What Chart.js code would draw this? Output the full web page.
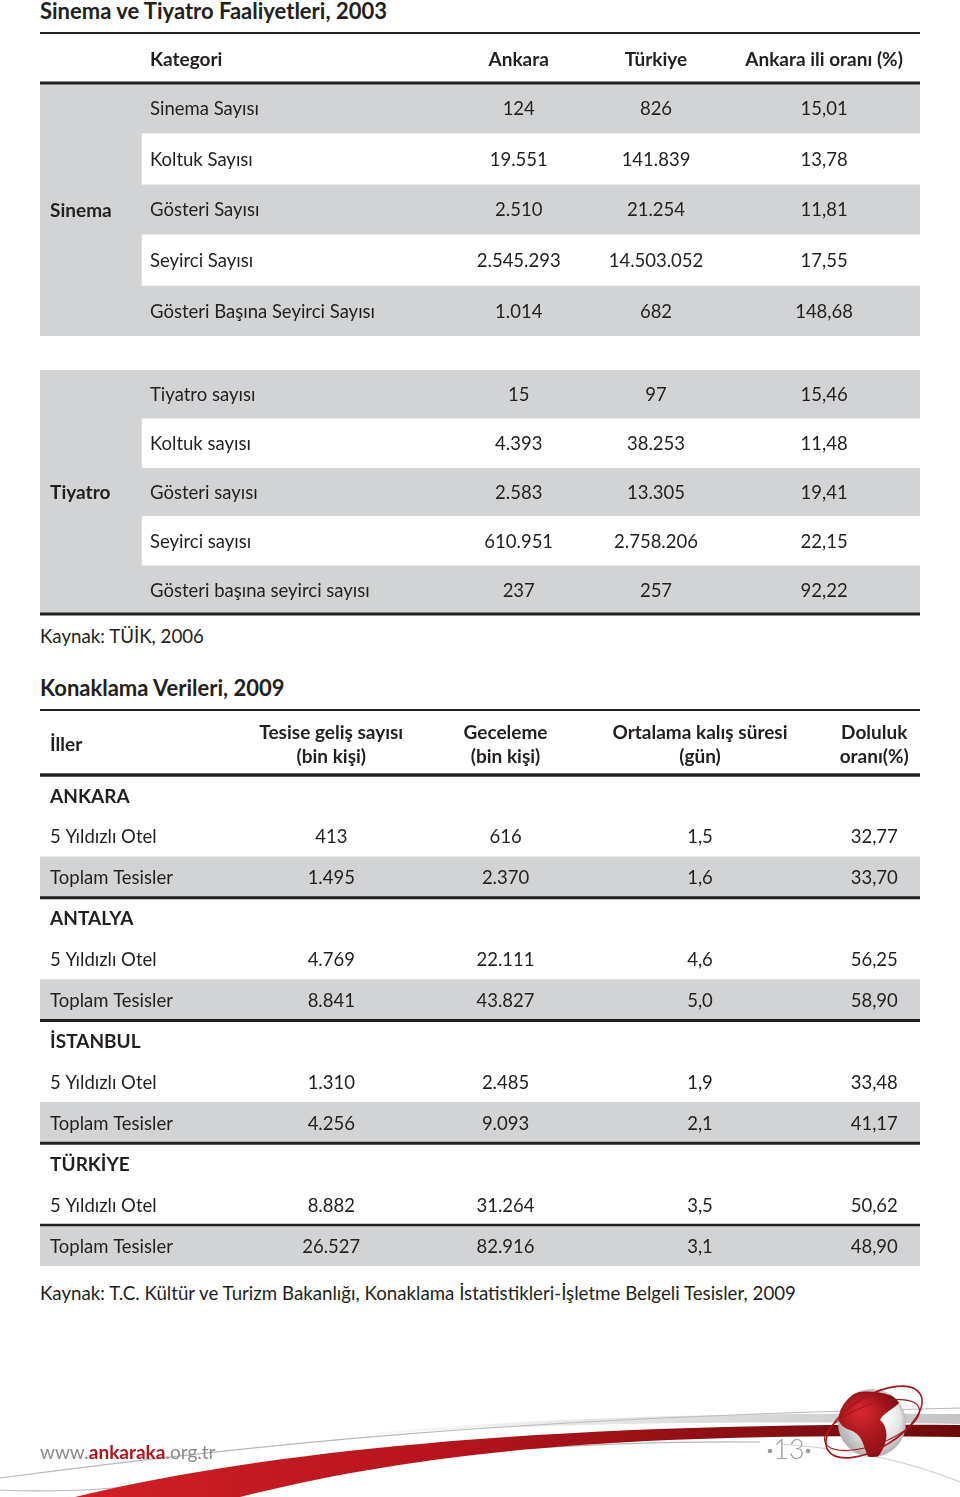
<!DOCTYPE html>
<html lang="tr">
<head>
<meta charset="utf-8">
<title>Sinema ve Tiyatro Faaliyetleri, Konaklama Verileri</title>
<script src="https://cdn.jsdelivr.net/npm/chart.js@4/dist/chart.umd.min.js"></script>
<style>
  html, body { margin: 0; padding: 0; background: #fff; }
  #sayfa { position: relative; width: 960px; height: 1497px; overflow: hidden; font-family: Lato, 'Open Sans', sans-serif; color: #231f20; }
  #sayfa canvas { position: absolute; left: 0; }
  .yazi { position: absolute; left: 40px; white-space: nowrap; line-height: 24px; }
  .baslik { font-weight: bold; font-size: 22px; }
  .kaynak { font-size: 18.7px; }
  .site { font-size: 19px; color: #8c8c8c; }
  .site b { color: #b3141d; }
</style>
</head>
<body>
<div id="sayfa">
  <div class="yazi baslik" style="top:-1px">Sinema ve Tiyatro Faaliyetleri, 2003</div>
  <canvas id="sinemaTablo" width="960" height="337" style="top:0"></canvas>
  <canvas id="tiyatroTablo" width="960" height="262" style="top:360px"></canvas>
  <div class="yazi kaynak" style="top:624px">Kaynak: TÜİK, 2006</div>

  <div class="yazi baslik" style="top:676px">Konaklama Verileri, 2009</div>
  <canvas id="konaklamaTablo" width="960" height="570" style="top:700px"></canvas>
  <div class="yazi kaynak" style="top:1281px">Kaynak: T.C. Kültür ve Turizm Bakanlığı, Konaklama İstatistikleri-İşletme Belgeli Tesisler, 2009</div>

  <canvas id="altSerit" width="960" height="140" style="top:1357px"></canvas>
  <div class="yazi site" style="top:1440px">www.<b>ankaraka</b>.org.tr</div>
</div>

<script>
// --- Sinema ve Tiyatro 2003 ---
const sutunlar1 = ['Kategori', 'Ankara', 'Türkiye', 'Ankara ili oranı (%)'];

const sinemaKalemleri = ['Sinema Sayısı', 'Koltuk Sayısı', 'Gösteri Sayısı', 'Seyirci Sayısı', 'Gösteri Başına Seyirci Sayısı'];
const sinemaAnkara = [124, 19551, 2510, 2545293, 1014];
const sinemaTurkiye = [826, 141839, 21254, 14503052, 682];
const sinemaOran = [15.01, 13.78, 11.81, 17.55, 148.68];

const tiyatroKalemleri = ['Tiyatro sayısı', 'Koltuk sayısı', 'Gösteri sayısı', 'Seyirci sayısı', 'Gösteri başına seyirci sayısı'];
const tiyatroAnkara = [15, 4393, 2583, 610951, 237];
const tiyatroTurkiye = [97, 38253, 13305, 2758206, 257];
const tiyatroOran = [15.46, 11.48, 19.41, 22.15, 92.22];

// --- Konaklama 2009 ---
const sutunlar2 = [['İller'], ['Tesise geliş sayısı', '(bin kişi)'], ['Geceleme', '(bin kişi)'], ['Ortalama kalış süresi', '(gün)'], ['Doluluk', 'oranı(%)']];
const iller = ['ANKARA', 'ANTALYA', 'İSTANBUL', 'TÜRKİYE'];
const tesisTurleri = ['5 Yıldızlı Otel', 'Toplam Tesisler'];
// her il için sırayla: 5 yıldızlı otel, toplam tesisler
const gelisSayisi = [413, 1495, 4769, 8841, 1310, 4256, 8882, 26527];
const geceleme = [616, 2370, 22111, 43827, 2485, 9093, 31264, 82916];
const kalisSuresi = [1.5, 1.6, 4.6, 5.0, 1.9, 2.1, 3.5, 3.1];
const dolulukOrani = [32.77, 33.70, 56.25, 58.90, 33.48, 41.17, 50.62, 48.90];


const METIN = '#231f20';
const GRI = '#d1d3d4';
const YAZI = '18.5px Lato, "Open Sans", sans-serif';
const KALIN = 'bold 19px Lato, "Open Sans", sans-serif';

// türkçe sayı biçimi: binlik nokta, ondalık virgül
function trSayi(v, ondalik = 0) {
    const [tam, kesir] = v.toFixed(ondalik).split('.');
    const binli = tam.replace(/\B(?=(\d{3})+(?!\d))/g, '.');
    return kesir ? binli + ',' + kesir : binli;
}

// tablo metinleri ve çizgileri, x/y ölçeklerinden konumlanır
const tabloPlugin = {
    id: 'tablo',
    afterDatasetsDraw(chart, args, o) {
        const { ctx, chartArea: ca } = chart;
        const x = chart.scales.x, y = chart.scales.y;
        const sol = x.getPixelForValue(0), sag = x.getPixelForValue(100);
        ctx.save();
        ctx.fillStyle = METIN;
        ctx.strokeStyle = METIN;
        ctx.textBaseline = 'middle';

        (o.cizgiler || []).forEach(c => {
            let py;
            if (c.sinir === 'ust') py = ca.top - o.baslikYuksekligi;
            else if (c.sinir === 'baslik') py = ca.top;
            else if (c.sinir === 'alt') py = ca.bottom;
            else py = (y.getPixelForValue(c.sinir) + y.getPixelForValue(c.sinir + 1)) / 2;
            ctx.lineWidth = c.kalinlik;
            ctx.beginPath();
            ctx.moveTo(sol, py);
            ctx.lineTo(sag, py);
            ctx.stroke();
        });

        if (o.baslik) {
            ctx.font = KALIN;
            const orta = ca.top - o.baslikYuksekligi / 2 + 2;
            o.baslik.forEach((satirlar, j) => {
                const s = o.sutunlar[j];
                ctx.textAlign = s.hiza;
                satirlar.forEach((t, k) => {
                    ctx.fillText(t, x.getPixelForValue(s.konum), orta + (k - (satirlar.length - 1) / 2) * 24);
                });
            });
        }

        o.hucreler.forEach((satir, i) => {
            const py = y.getPixelForValue(i) + 1;
            satir.forEach((t, j) => {
                if (!t) return;
                const s = o.sutunlar[j];
                ctx.font = (o.kalinSatirlar || []).includes(i) ? KALIN : YAZI;
                ctx.textAlign = s.hiza;
                ctx.fillText(t, x.getPixelForValue(s.konum), py);
            });
        });

        if (o.grup) {
            ctx.font = KALIN;
            ctx.textAlign = 'left';
            ctx.fillText(o.grup, x.getPixelForValue(o.grupKonum), (ca.top + ca.bottom) / 2 + 1);
        }
        ctx.restore();
    }
};

function tabloKur(id, satirAdlari, griSatirlar, beyazSatirlar, beyazBaslangic, dolgu, ayarlar) {
    const bant = (satirlar, bas) => satirAdlari.map((_, i) => satirlar.includes(i) ? [bas, 100] : null);
    return new Chart(document.getElementById(id), {
        type: 'bar',
        data: {
            labels: satirAdlari,
            datasets: [{
                data: bant(griSatirlar, 0),
                backgroundColor: GRI,
                grouped: false,
                order: 2,
                barPercentage: 1,
                categoryPercentage: 1,
            }, {
                data: bant(beyazSatirlar, beyazBaslangic),
                backgroundColor: '#ffffff',
                grouped: false,
                order: 1,
                barPercentage: 1,
                categoryPercentage: 1,
            }]
        },
        options: {
            indexAxis: 'y',
            responsive: false,
            animation: false,
            events: [],
            layout: { padding: dolgu },
            scales: {
                x: { type: 'linear', min: 0, max: 100, display: false },
                y: { display: false }
            },
            plugins: {
                legend: { display: false },
                tooltip: { enabled: false },
                tablo: ayarlar
            }
        },
        plugins: [tabloPlugin]
    });
}

// sütun konumları (x ölçeği 0-100, tablo genişliği)
const kolon1 = [
    { konum: 12.5, hiza: 'left' },
    { konum: 54.4, hiza: 'center' },
    { konum: 70.0, hiza: 'center' },
    { konum: 89.1, hiza: 'center' },
];
const kolon2 = [
    { konum: 1.15, hiza: 'left' },
    { konum: 33.1, hiza: 'center' },
    { konum: 52.9, hiza: 'center' },
    { konum: 75.0, hiza: 'center' },
    { konum: 94.8, hiza: 'center' },
];

const sinemaHucreler = sinemaKalemleri.map((k, i) =>
    [k, trSayi(sinemaAnkara[i]), trSayi(sinemaTurkiye[i]), trSayi(sinemaOran[i], 2)]);
const tiyatroHucreler = tiyatroKalemleri.map((k, i) =>
    [k, trSayi(tiyatroAnkara[i]), trSayi(tiyatroTurkiye[i]), trSayi(tiyatroOran[i], 2)]);

tabloKur('sinemaTablo', sinemaKalemleri, [0, 1, 2, 3, 4], [1, 3], 11.6,
    { top: 83, left: 40, right: 40, bottom: 1 },
    {
        sutunlar: kolon1,
        baslik: sutunlar1.map(s => [s]),
        baslikYuksekligi: 50,
        hucreler: sinemaHucreler,
        grup: 'Sinema',
        grupKonum: 1.15,
        cizgiler: [{ sinir: 'ust', kalinlik: 2 }, { sinir: 'baslik', kalinlik: 3 }]
    });

tabloKur('tiyatroTablo', tiyatroKalemleri, [0, 1, 2, 3, 4], [1, 3], 11.6,
    { top: 10, left: 40, right: 40, bottom: 8 },
    {
        sutunlar: kolon1,
        hucreler: tiyatroHucreler,
        grup: 'Tiyatro',
        grupKonum: 1.15,
        cizgiler: [{ sinir: 'alt', kalinlik: 3 }]
    });

const konaklamaSatirlar = [];
const konaklamaHucreler = [];
const ilSatirlari = [];
const toplamSatirlari = [];
iller.forEach((il, i) => {
    ilSatirlari.push(konaklamaSatirlar.length);
    konaklamaSatirlar.push(il);
    konaklamaHucreler.push([il]);
    tesisTurleri.forEach((tur, k) => {
        const n = i * 2 + k;
        if (k === 1) toplamSatirlari.push(konaklamaSatirlar.length);
        konaklamaSatirlar.push(il + ' ' + tur);
        konaklamaHucreler.push([tur, trSayi(gelisSayisi[n]), trSayi(geceleme[n]), trSayi(kalisSuresi[n], 1), trSayi(dolulukOrani[n], 2)]);
    });
});

tabloKur('konaklamaTablo', konaklamaSatirlar, toplamSatirlari, [], 0,
    { top: 75, left: 40, right: 40, bottom: 4 },
    {
        sutunlar: kolon2,
        baslik: sutunlar2,
        baslikYuksekligi: 65,
        hucreler: konaklamaHucreler,
        kalinSatirlar: ilSatirlari,
        cizgiler: [
            { sinir: 'ust', kalinlik: 2 },
            { sinir: 'baslik', kalinlik: 3.5 },
            { sinir: toplamSatirlari[0], kalinlik: 3 },
            { sinir: toplamSatirlari[1], kalinlik: 3 },
            { sinir: toplamSatirlari[2], kalinlik: 3 },
            { sinir: toplamSatirlari[3] - 1, kalinlik: 2.5 },
        ]
    });

// sayfa altı süsleme: kırmızı şerit, küre, sayfa no
(function altSerit() {
    const ctx = document.getElementById('altSerit').getContext('2d');
    ctx.translate(0, -1357);

    // ince gri kavisler
    ctx.strokeStyle = '#b8b8b8';
    ctx.lineWidth = 1.2;
    ctx.beginPath();
    ctx.moveTo(0, 1478);
    ctx.bezierCurveTo(250, 1445, 500, 1418, 960, 1408);
    ctx.stroke();
    ctx.beginPath();
    ctx.moveTo(0, 1490);
    ctx.bezierCurveTo(60, 1493, 120, 1490, 200, 1478);
    ctx.bezierCurveTo(400, 1455, 600, 1440, 760, 1442);
    ctx.stroke();
    ctx.strokeStyle = '#d0d0d0';
    ctx.beginPath();
    ctx.moveTo(780, 1444);
    ctx.bezierCurveTo(860, 1450, 910, 1462, 960, 1482);
    ctx.stroke();

    // açık gri bant
    const gri = ctx.createLinearGradient(300, 0, 960, 0);
    gri.addColorStop(0, 'rgba(200,200,200,0)');
    gri.addColorStop(1, 'rgba(190,190,190,0.9)');
    ctx.fillStyle = gri;
    ctx.beginPath();
    ctx.moveTo(300, 1440);
    ctx.bezierCurveTo(500, 1418, 700, 1412, 960, 1414);
    ctx.lineTo(960, 1424);
    ctx.bezierCurveTo(700, 1420, 500, 1424, 300, 1440);
    ctx.fill();

    // kırmızı şerit
    const kirmizi = ctx.createLinearGradient(60, 0, 960, 0);
    kirmizi.addColorStop(0, '#d41f26');
    kirmizi.addColorStop(0.45, '#b3141c');
    kirmizi.addColorStop(1, '#6a0a0d');
    ctx.fillStyle = kirmizi;
    ctx.beginPath();
    ctx.moveTo(75, 1497);
    ctx.bezierCurveTo(250, 1455, 520, 1422, 960, 1425);
    ctx.lineTo(960, 1437);
    ctx.bezierCurveTo(620, 1432, 420, 1452, 240, 1497);
    ctx.closePath();
    ctx.fill();

    // sayfa numarası
    ctx.fillStyle = '#9d9d9d';
    ctx.font = '300 27px Lato, sans-serif';
    ctx.textAlign = 'center';
    ctx.textBaseline = 'middle';
    ctx.fillText('13', 789, 1450);
    ctx.beginPath(); ctx.arc(770, 1451, 2.3, 0, Math.PI * 2); ctx.fill();
    ctx.beginPath(); ctx.arc(808, 1451, 2.3, 0, Math.PI * 2); ctx.fill();

    // küre gölgesi
    const golge = ctx.createRadialGradient(872, 1470, 2, 872, 1470, 34);
    golge.addColorStop(0, 'rgba(120,120,120,0.45)');
    golge.addColorStop(1, 'rgba(120,120,120,0)');
    ctx.fillStyle = golge;
    ctx.save(); ctx.scale(1, 0.25);
    ctx.beginPath(); ctx.arc(872, 1470 * 4, 34, 0, Math.PI * 2); ctx.fill();
    ctx.restore();

    // küre
    const kure = ctx.createRadialGradient(885, 1410, 4, 872, 1423, 36);
    kure.addColorStop(0, '#ffffff');
    kure.addColorStop(0.6, '#e4e4e4');
    kure.addColorStop(1, '#a9a9a9');
    ctx.fillStyle = kure;
    ctx.beginPath(); ctx.arc(872, 1423, 34, 0, Math.PI * 2); ctx.fill();
    ctx.save();
    ctx.beginPath(); ctx.arc(872, 1423, 34, 0, Math.PI * 2); ctx.clip();
    const kita = ctx.createRadialGradient(860, 1410, 4, 866, 1425, 40);
    kita.addColorStop(0, '#d3252c');
    kita.addColorStop(1, '#7e0b10');
    ctx.fillStyle = kita;
    ctx.beginPath();
    ctx.moveTo(840, 1398);
    ctx.bezierCurveTo(858, 1388, 890, 1390, 900, 1402);
    ctx.bezierCurveTo(893, 1410, 884, 1412, 880, 1420);
    ctx.bezierCurveTo(892, 1430, 886, 1452, 872, 1462);
    ctx.bezierCurveTo(862, 1450, 866, 1436, 850, 1430);
    ctx.bezierCurveTo(836, 1426, 834, 1410, 840, 1398);
    ctx.fill();
    ctx.restore();

    // halkalar
    ctx.strokeStyle = '#a3161c';
    ctx.lineWidth = 1.6;
    ctx.beginPath(); ctx.ellipse(874, 1422, 54, 26, -0.55, 0, Math.PI * 2); ctx.stroke();
    ctx.lineWidth = 1.1;
    ctx.beginPath(); ctx.ellipse(872, 1425, 50, 20, -0.35, 0, Math.PI * 2); ctx.stroke();
})();
</script>
</body>
</html>
